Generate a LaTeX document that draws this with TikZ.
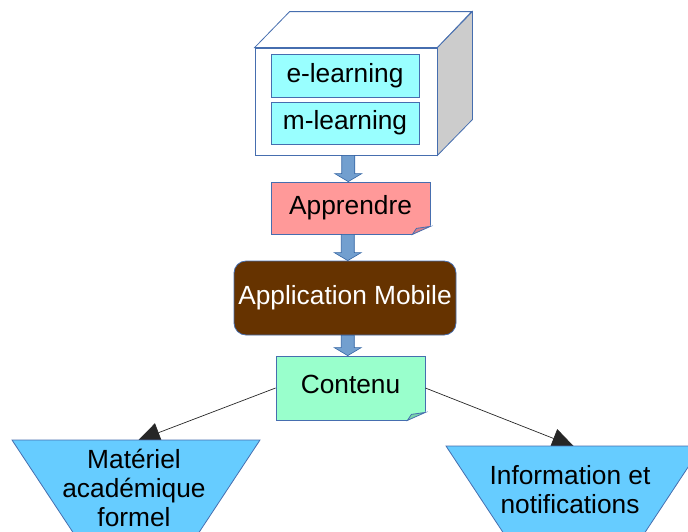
\documentclass[tikz,border=0pt]{standalone}
\usepackage{fontspec}
\setmainfont{Liberation Sans}
\usetikzlibrary{calc,arrows.meta}
\definecolor{edgeblue}{RGB}{70,110,175}
\definecolor{cyanfill}{RGB}{153,255,255}
\definecolor{pinkfill}{RGB}{255,153,153}
\definecolor{pinkfold}{RGB}{214,128,140}
\definecolor{brownfill}{RGB}{102,51,0}
\definecolor{mintfill}{RGB}{153,255,204}
\definecolor{mintfold}{RGB}{122,214,170}
\definecolor{trapfill}{RGB}{102,204,255}
\definecolor{arrowfill}{RGB}{114,159,207}
\definecolor{arrowedge}{RGB}{52,101,164}
\definecolor{sidegrey}{RGB}{204,204,204}
\newcommand{\myblockarrow}[2]{%
  \filldraw[blockarrowstyle] let \p1=(#1.south), \p2=(#2.north), \p3=($(#1.center)!0.5!(#2.center)$) in
    (\x3-6.5pt,\y1) -- (\x3-6.5pt,\y2+8pt) -- (\x3-13.5pt,\y2+8pt) -- (\x3,\y2)
    -- (\x3+13.5pt,\y2+8pt) -- (\x3+6.5pt,\y2+8pt) -- (\x3+6.5pt,\y1) -- cycle;}
\begin{document}
\begin{tikzpicture}[x=1pt,y=-1pt,
  every node/.style={font=\fontsize{26.3}{29}\selectfont, inner sep=0pt, align=center},
  edge/.style={draw=edgeblue, line width=0.8pt},
  box/.style={edge, rectangle},
  blockarrowstyle/.style={draw=arrowedge, fill=arrowfill, line width=0.6pt},
  thinarrow/.style={draw=black!85, line width=0.7pt, -{Triangle[length=22pt,width=20pt]}},
  trap/.style={draw=edgeblue, line width=0.8pt, fill=trapfill}]
\useasboundingbox (0,0) rectangle (688,531);
\clip (0,0) rectangle (688,531);

% cube
\node[box, fill=white, minimum width=182pt, minimum height=107pt] (cube) at (346,101.5) {};
\draw[edge, fill=white] (cube.north west) -- ++(35,-36) -- ++(182,0) -- (cube.north east) -- cycle;
\draw[edge, fill=sidegrey] (cube.north east) -- ++(35,-36) -- ++(0,108) -- (cube.south east) -- cycle;
\node[box, fill=cyanfill, minimum width=148pt, minimum height=43pt] (elearn) at (345,75.5) {e-learning};
\node[box, fill=cyanfill, minimum width=148pt, minimum height=42pt] (mlearn) at (345,123) {m-learning};

% Apprendre
\node[box, fill=pinkfill, minimum width=159pt, minimum height=52pt] (apprendre) at (350.5,208) {Apprendre};
\fill[white] ($(apprendre.south east)+(1,1)$) -- ($(apprendre.south east)+(1,-9)$) -- ($(apprendre.south east)+(-19,1)$) -- cycle;
\draw[edge, fill=pinkfold] ($(apprendre.south east)+(0,-8)$) -- ($(apprendre.south east)+(-18,0)$) -- ($(apprendre.south east)+(-14,-6)$) -- cycle;

% Application Mobile
\node[draw=edgeblue, line width=0.8pt, fill=brownfill, rounded corners=12pt, minimum width=222pt, minimum height=74pt, text=white] (app) at (345,298) {Application Mobile};

% Contenu
\node[box, fill=mintfill, minimum width=149pt, minimum height=64pt, text depth=8pt] (contenu) at (350.5,388) {Contenu};
\fill[white] ($(contenu.south east)+(1,1)$) -- ($(contenu.south east)+(1,-9)$) -- ($(contenu.south east)+(-19,1)$) -- cycle;
\draw[edge, fill=mintfold] ($(contenu.south east)+(0,-8)$) -- ($(contenu.south east)+(-18,0)$) -- ($(contenu.south east)+(-14,-6)$) -- cycle;

% block arrows
\myblockarrow{cube}{apprendre}
\myblockarrow{apprendre}{app}
\myblockarrow{app}{contenu}

% thin arrows
\coordinate (lt) at (138,440.5);
\coordinate (rt) at (574,446.5);
\draw[thinarrow] (contenu.west) -- (lt);
\draw[thinarrow] (contenu.east) -- (rt);

% trapezoids
\draw[trap] (12,440) -- (260,440) -- (194,540) -- (78,540) -- cycle;
\node (materiel) at (134,487.5) {Matériel\\académique\\formel};
\draw[trap] (446,446) -- (702,446) -- (640,540) -- (508,540) -- cycle;
\node (info) at (570,490) {Information et\\notifications};
\end{tikzpicture}
\end{document}
